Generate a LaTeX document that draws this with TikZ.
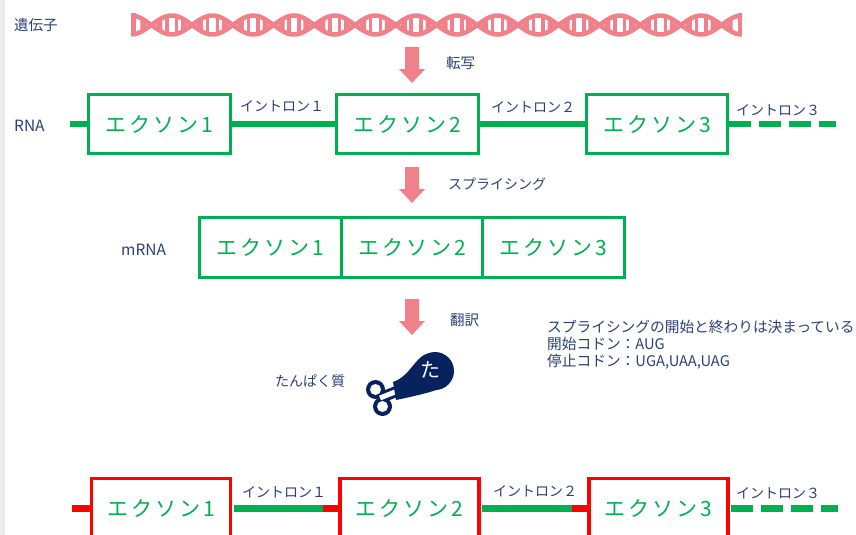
\documentclass[tikz,border=0pt]{standalone}
\usepackage{fontspec}
\setmainfont{Noto Sans CJK JP}
\newfontfamily\exonfont[LetterSpace=14]{Noto Sans CJK JP}
\usetikzlibrary{calc,backgrounds}
\definecolor{dnapink}{RGB}{240,128,137}
\definecolor{exongreen}{RGB}{0,176,80}
\definecolor{cutred}{RGB}{255,0,0}
\definecolor{labelnavy}{RGB}{43,63,115}
\definecolor{meatnavy}{RGB}{8,34,94}
\definecolor{edgegray}{RGB}{235,235,235}

\begin{document}
\begin{tikzpicture}[x=1pt,y=-1pt,
  lbl/.style={anchor=west, inner sep=0, text=labelnavy, font=\fontsize{14.5}{17}\selectfont},
  intronlbl/.style={lbl, font=\fontsize{14}{16}\selectfont},
  exon/.style={draw=exongreen, line width=3.3pt, fill=white, inner sep=0,
    text=exongreen, font=\exonfont\fontsize{21}{24}\selectfont,
    minimum width=141.6pt, minimum height=58.6pt},
  mexon/.style={exon, minimum width=141.5pt, minimum height=59.6pt},
  cutexon/.style={exon, draw=cutred, minimum width=139pt, minimum height=60pt},
  intron/.style={draw=exongreen, line width=6.5pt},
  introntail/.style={intron, dash pattern=on 22pt off 8pt},
  cutstub/.style={draw=cutred, line width=6.5pt},
  flowarrow/.style={fill=dnapink},
]
\useasboundingbox (0,0) rectangle (856,535);
\clip (0,0) rectangle (856,535);
\fill[edgegray] (0,0) rectangle (5,535);

% ---- double helix: 15 crossings between x=131 and x=742 ----
\def\dnalen{40.733}
\def\dnak{4.41902}
\def\dnaamp{9.5}
\begin{scope}[dnapink]
  \draw[line width=4.5pt] plot[domain=131:742, samples=400, smooth]
    (\x,{25+\dnaamp*cos((\x-131)*\dnak)});
  \draw[line width=4.5pt] plot[domain=131:742, samples=400, smooth]
    (\x,{25-\dnaamp*cos((\x-131)*\dnak)});
  % end caps
  \fill (131,13.5) rectangle (135.5,36.5);
  \fill (737.5,13.5) rectangle (742,36.5);
  % wedge rungs beside every crossing
  \foreach \k in {0,...,14} {
    \pgfmathsetmacro\cx{131+(\k+0.5)*\dnalen}
    \pgfmathsetmacro\aa{\cx+0.12*\dnalen}
    \pgfmathsetmacro\ab{\cx+0.27*\dnalen}
    \pgfmathsetmacro\ba{\cx-0.27*\dnalen}
    \pgfmathsetmacro\bb{\cx-0.12*\dnalen}
    \fill plot[domain=\aa:\ab, samples=8] (\x,{25+\dnaamp*cos((\x-131)*\dnak)})
      -- plot[domain=\ab:\aa, samples=8] (\x,{25-\dnaamp*cos((\x-131)*\dnak)}) -- cycle;
    \fill plot[domain=\ba:\bb, samples=8] (\x,{25+\dnaamp*cos((\x-131)*\dnak)})
      -- plot[domain=\bb:\ba, samples=8] (\x,{25-\dnaamp*cos((\x-131)*\dnak)}) -- cycle;
  }
  % paired rungs in the middle of each turn
  \foreach \k in {1,...,14} {
    \pgfmathsetmacro\ma{131+(\k-0.12)*\dnalen}
    \pgfmathsetmacro\mb{131+(\k+0.12)*\dnalen}
    \draw[line width=3.5pt] (\ma,15) -- (\ma,35);
    \draw[line width=3.5pt] (\mb,15) -- (\mb,35);
  }
\end{scope}

% ---- flow arrows ----
\foreach \t in {47,167,299}
  \fill[flowarrow] (405,\t) -- ++(14,0) -- ++(0,22) -- ++(6,0) -- ++(-13,14)
    -- ++(-13,-14) -- ++(6,0) -- cycle;

% ---- labels ----
\node[lbl] (gene) at (14,25) {遺伝子};
\node[lbl, font=\fontsize{15.5}{18}\selectfont] (rnalbl) at (14,126) {RNA};
\node[lbl, font=\fontsize{15.5}{18}\selectfont] (mrnalbl) at (121,250) {mRNA};
\node[lbl] (txlbl) at (446,63) {転写};
\node[lbl, font=\fontsize{14}{16}\selectfont] (splbl) at (448,184) {スプライシング};
\node[lbl] (trlbl) at (450,320) {翻訳};
\node[lbl, font=\fontsize{14}{16}\selectfont] (protlbl) at (275,381) {たんぱく質};
\node[lbl, anchor=north west, align=left, font=\fontsize{14.7}{17}\selectfont] (note) at (547,320)
  {スプライシングの開始と終わりは決まっている\\開始コドン：AUG\\停止コドン：UGA,UAA,UAG};

% ---- RNA ----
\node[exon] (r1) at (159.5,124) {エクソン1};
\node[exon] (r2) at (407.5,124) {エクソン2};
\node[exon] (r3) at (657,124) {エクソン3};
\coordinate (rstart) at (70,124);
\coordinate (rend) at (836,124);
\begin{scope}[on background layer]
  \draw[intron] (rstart) -- (r1.west);
  \draw[intron] (r1.east) -- (r2.west);
  \draw[intron] (r2.east) -- (r3.west);
  \draw[introntail] (r3.east) -- (rend);
\end{scope}
\node[intronlbl] (i1) at (240,106) {イントロン１};
\node[intronlbl] (i2) at (491,107) {イントロン２};
\node[intronlbl] (i3) at (736,110) {イントロン３};

% ---- mRNA ----
\node[mexon] (m1) at (270.5,247.5) {エクソン1};
\node[mexon] (m2) at (412,247.5) {エクソン2};
\node[mexon] (m3) at (553.5,247.5) {エクソン3};

% ---- protein icon ----
\begin{scope}[meatnavy]
  \fill (375.5,389.5) circle (9.5);
  \fill (382.5,406.5) circle (9.5);
  \draw[line width=11pt] (380,398) -- (400,390);
  \fill[white] (375.5,389.5) circle (5.5);
  \fill[white] (382.5,406.5) circle (5.5);
  \draw[white, line width=5pt] (380,398) -- (400,390);
  \fill (435,371) circle (19);
  \fill (393,382) .. controls (410,376) and (414,359) .. (426,354)
    -- (446,386.5) .. controls (430,393) and (410,397) .. (396,400) -- cycle;
  \node[text=white, inner sep=0, font=\fontsize{20}{21}\selectfont] (ta) at (430,370) {た};
\end{scope}

% ---- cut RNA ----
\node[cutexon] (b1) at (161,508.7) {エクソン1};
\node[cutexon] (b2) at (409.5,508.7) {エクソン2};
\node[cutexon] (b3) at (658.5,508.7) {エクソン3};
\coordinate (bstart) at (72,508.7);
\coordinate (bj1) at (323,508.7);
\coordinate (bj2) at (572,508.7);
\coordinate (bend) at (838,508.7);
\begin{scope}[on background layer]
  \draw[cutstub] (bstart) -- (b1.west);
  \draw[cutstub] (bj1) -- (b2.west);
  \draw[cutstub] (bj2) -- (b3.west);
\end{scope}
\draw[intron] ([xshift=1.65pt]b1.east) -- (bj1);
\draw[intron] ([xshift=1.65pt]b2.east) -- (bj2);
\draw[introntail] ([xshift=1.65pt]b3.east) -- (bend);
\node[intronlbl] (j1) at (242,492) {イントロン１};
\node[intronlbl] (j2) at (493,491) {イントロン２};
\node[intronlbl] (j3) at (736,493) {イントロン３};
\end{tikzpicture}
\end{document}
